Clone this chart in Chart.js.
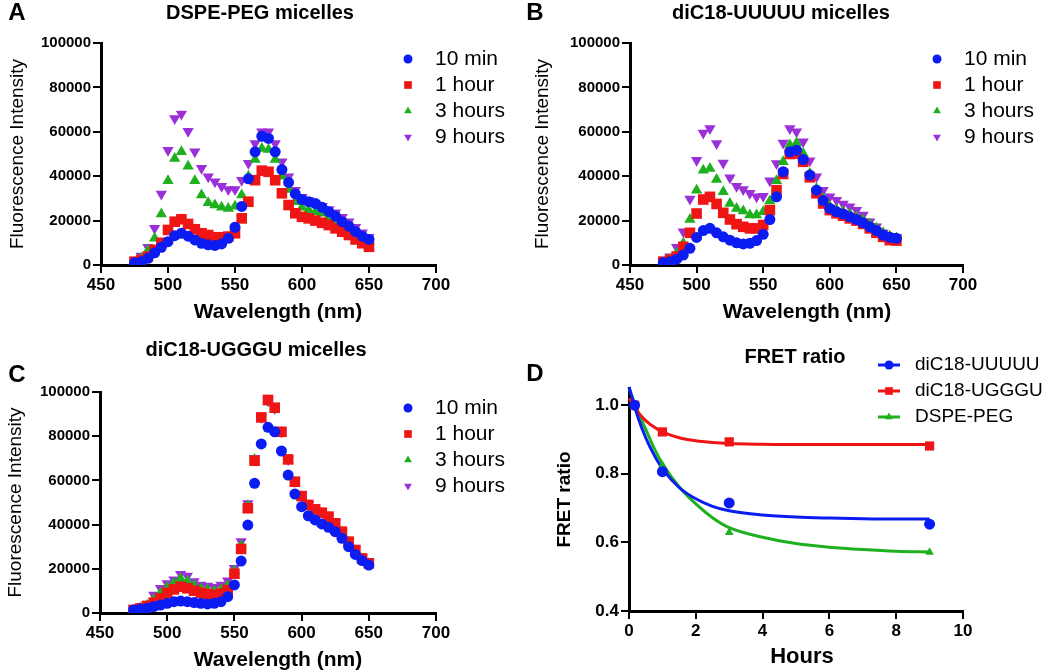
<!DOCTYPE html>
<html>
<head>
<meta charset="utf-8">
<script src="https://cdn.jsdelivr.net/npm/chart.js@4/dist/chart.umd.min.js"></script>
<style>
  body { margin: 0; background: #fff; }
  #wrap { position: relative; width: 1050px; height: 672px; }
  canvas { position: absolute; }
</style>
</head>
<body>
<div id="wrap">
  <canvas id="panelA" width="525" height="330" style="left:0;top:0"></canvas>
  <canvas id="panelB" width="525" height="330" style="left:525px;top:0"></canvas>
  <canvas id="panelC" width="525" height="342" style="left:0;top:330px"></canvas>
  <canvas id="panelD" width="525" height="342" style="left:525px;top:330px"></canvas>
</div>
<script>
// emission wavelengths (nm)
const wavelengths = [475, 480, 485, 490, 495, 500, 505, 510, 515, 520, 525, 530, 535, 540, 545, 550, 555, 560,
                     565, 570, 575, 580, 585, 590, 595, 600, 605, 610, 615, 620, 625, 630, 635, 640, 645, 650];

const timeLabels = ['10 min', '1 hour', '3 hours', '9 hours'];

// A - DSPE-PEG micelles
const dspe10min = [1000, 1500, 3000, 5500, 8000, 10500, 13200, 14300, 13000, 11300, 9800, 9100, 8800, 9500, 12000, 17000,
                   26400, 38800, 51000, 58000, 57000, 51000, 43000, 37200, 32000, 29500, 28500, 27700, 26000, 24000, 22000, 19500, 17500, 15000, 13000, 11500];
const dspe1h = [1500, 2200, 3800, 6800, 10000, 15800, 19500, 20600, 18500, 16100, 14300, 13500, 12500, 12500, 12800, 14300,
                21000, 28500, 38200, 42500, 42000, 38200, 32300, 27000, 23300, 21700, 21000, 20000, 19000, 18000, 16500, 15000, 13500, 11500, 9800, 8200];
const dspe3h = [1000, 3000, 6500, 12000, 23000, 38000, 48000, 51000, 44500, 38000, 31500, 28000, 27000, 26000, 25500, 26500,
                31500, 40000, 47500, 52500, 52000, 47500, 40000, 34000, 28500, 26000, 24800, 24000, 23300, 21700, 20300, 18000, 16500, 14200, 12400, 10800];
const dspe9h = [2000, 4000, 8000, 16500, 32000, 51700, 66000, 68000, 60300, 51000, 43600, 39700, 37500, 35500, 34000, 34000,
                38200, 45800, 54700, 60000, 60000, 54700, 46500, 39700, 33700, 30500, 29000, 27500, 26500, 25000, 23500, 21500, 19500, 17000, 14500, 12500];

// B - diC18-UUUUU micelles
const uuuuu10min = [1000, 1500, 2600, 4500, 7500, 12400, 15500, 16500, 14500, 12700, 11200, 10000, 9500, 9800, 11000, 13800,
                    20500, 30700, 42000, 51000, 51700, 47500, 40500, 33700, 29000, 25500, 24000, 23000, 21700, 20500, 19000, 17200, 15500, 13500, 12500, 12000];
const uuuuu1h = [1500, 2300, 3800, 8200, 14500, 23200, 29500, 30700, 27500, 23500, 20500, 18400, 17200, 16500, 16500, 18000,
                 24700, 33700, 41000, 50000, 50200, 46500, 39500, 32300, 27700, 24700, 23300, 22200, 21000, 20000, 18500, 16500, 14500, 12700, 11200, 11000];
const uuuuu3h = [800, 2500, 5200, 9800, 20500, 33700, 42700, 43500, 38500, 33000, 27700, 25500, 24300, 22500, 22500, 24000,
                 28800, 38000, 46500, 54000, 55000, 50200, 41200, 34500, 30000, 26500, 25000, 24000, 23000, 21700, 20300, 18500, 16500, 14500, 13000, 12000];
const uuuuu9h = [1500, 3700, 8000, 15000, 29700, 47200, 59500, 61500, 54700, 46000, 39300, 35500, 34000, 32300, 30700, 31000,
                 38000, 45700, 55000, 61500, 60000, 55500, 47000, 39700, 33700, 30700, 29200, 27500, 26200, 24700, 22500, 19500, 17200, 14500, 13000, 12500];

// C - diC18-UGGGU micelles
const ugggu10min = [1400, 1800, 2100, 2900, 3600, 4400, 5100, 5400, 5100, 4700, 4400, 4100, 4400, 5100, 7400, 12700,
                    23500, 39800, 58700, 76500, 84000, 82000, 73300, 62400, 53800, 48100, 44000, 42100, 40300, 38800, 36800, 33800, 30000, 26500, 23700, 21700];
const ugggu1h = [1400, 2100, 3200, 4700, 6600, 9200, 10700, 11900, 11200, 10100, 9200, 8600, 8100, 8800, 10400, 17800,
                 29000, 47400, 68900, 88500, 96400, 92900, 82000, 69500, 59400, 52900, 48900, 46900, 45400, 43600, 40600, 36800, 32300, 28500, 24700, 22500];
const ugggu3h = [1400, 2300, 3500, 6000, 9000, 11500, 13500, 15500, 14500, 12500, 11000, 10500, 10000, 10500, 12500, 19000,
                 30500, 48500, 69500, 88000, 95500, 92000, 81500, 69000, 59000, 52500, 48500, 46500, 45000, 43200, 40300, 36500, 32000, 28200, 24500, 22300];
const ugggu9h = [1500, 2500, 3800, 8100, 11200, 13400, 15000, 17500, 16700, 14200, 12700, 12200, 11600, 12700, 14600, 20200,
                 32300, 49600, 70000, 88500, 96000, 92500, 82000, 69500, 59500, 53000, 49000, 47000, 45500, 43700, 40700, 36900, 32400, 28600, 24800, 22600];

// D - FRET ratio vs time
const fretNames = ['diC18-UUUUU', 'diC18-UGGGU', 'DSPE-PEG'];
const fretHours = [0.167, 1, 3, 9];
const fretUUUUU = [1.0, 0.806, 0.715, 0.653];
const fretUGGGU = [1.0, 0.922, 0.893, 0.881];
const fretDSPE = [1.0, 0.825, 0.629, 0.571];
// fitted decay curves
const fitHours = [0, 0.25, 0.5, 0.75, 1, 1.5, 2, 2.5, 3, 4, 5, 6, 7, 8, 9];
const fitUUUUU = [1.053, 0.97, 0.905, 0.855, 0.815, 0.76, 0.727, 0.705, 0.692, 0.68, 0.674, 0.671, 0.669, 0.668, 0.668];
const fitUGGGU = [1.02, 0.982, 0.955, 0.936, 0.922, 0.905, 0.896, 0.891, 0.888, 0.886, 0.885, 0.885, 0.885, 0.885, 0.885];
const fitDSPE = [1.05, 0.985, 0.93, 0.875, 0.83, 0.762, 0.712, 0.672, 0.643, 0.615, 0.597, 0.586, 0.579, 0.574, 0.572];

const FONT = '"Liberation Sans", Arial, Helvetica, sans-serif';
const colors = ['#0b1cf2', '#f01515', '#1fb01f', '#9b30d8'];
const shapes = ['circle', 'rect', 'triangle', 'triangle'];
const rotations = [0, 0, 0, 180];
const radii = [5.5, 7.5, 6.5, 6.5];

function pairs(xs, ys) {
    return xs.map((x, i) => ({ x: x, y: ys[i] }));
}

function drawMarker(ctx, shape, x, y, r, rot, color) {
    ctx.save();
    ctx.fillStyle = color;
    ctx.translate(x, y);
    ctx.rotate(rot * Math.PI / 180);
    ctx.beginPath();
    if (shape === 'circle') {
        ctx.arc(0, 0, r, 0, Math.PI * 2);
    } else if (shape === 'rect') {
        ctx.rect(-r, -r, 2 * r, 2 * r);
    } else {
        ctx.moveTo(0, -r);
        ctx.lineTo(r * 0.866, r * 0.5);
        ctx.lineTo(-r * 0.866, r * 0.5);
        ctx.closePath();
    }
    ctx.fill();
    ctx.restore();
}

// panel letter, title, x-axis title and a legend placed like the original figure
const panelText = {
    id: 'panelText',
    afterDraw(chart, args, opts) {
        const ctx = chart.ctx;
        ctx.save();
        ctx.fillStyle = '#000';
        ctx.textBaseline = 'middle';
        ctx.textAlign = 'center';
        ctx.font = 'bold 24px ' + FONT;
        ctx.fillText(opts.letter, opts.letterX, opts.letterY);
        ctx.font = 'bold 20px ' + FONT;
        ctx.fillText(opts.title, opts.titleX, opts.titleY);
        ctx.font = 'bold ' + opts.xTitleSize + 'px ' + FONT;
        ctx.fillText(opts.xTitle, opts.xTitleX, opts.xTitleY);

        const lg = opts.legend;
        ctx.font = lg.size + 'px ' + FONT;
        ctx.textAlign = 'left';
        lg.labels.forEach((label, i) => {
            const y = lg.y + i * lg.gap;
            if (lg.line) {
                ctx.strokeStyle = colors[i];
                ctx.lineWidth = 3;
                ctx.beginPath();
                ctx.moveTo(lg.x - 11, y);
                ctx.lineTo(lg.x + 11, y);
                ctx.stroke();
            }
            const r = shapes[i] === 'rect' ? lg.r * 0.85 : lg.r;
            drawMarker(ctx, shapes[i], lg.x, y, r, rotations[i], colors[i]);
            ctx.fillStyle = '#000';
            ctx.fillText(label, lg.textX, y);
        });
        ctx.restore();
    }
};

function axisX(min, max, step, height) {
    return {
        type: 'linear', min: min, max: max,
        ticks: { stepSize: step, color: '#000', padding: 2, maxRotation: 0,
                 font: { family: FONT, size: 17, weight: 'bold' } },
        grid: { drawOnChartArea: false, drawTicks: true, tickLength: 8, color: '#000', lineWidth: 2 },
        border: { display: true, color: '#000', width: 3 },
        afterFit: function (scale) { scale.height = height; }
    };
}

function axisY(min, max, step, title, width, tickSize, titleWeight, titlePad, fmt) {
    return {
        type: 'linear', min: min, max: max,
        ticks: { stepSize: step, color: '#000', padding: 2, includeBounds: false,
                 font: { family: FONT, size: tickSize, weight: 'bold' }, callback: fmt },
        grid: { drawOnChartArea: false, drawTicks: true, tickLength: 8, color: '#000', lineWidth: 2 },
        border: { display: true, color: '#000', width: 3 },
        title: { display: true, text: title, color: '#000', padding: { top: titlePad, bottom: 0 },
                 font: { family: FONT, size: 19, weight: titleWeight } },
        afterFit: function (scale) { scale.width = width; }
    };
}

function spectrumChart(id, series, layout) {
    const datasets = series.map((vals, i) => ({
        label: timeLabels[i],
        data: pairs(wavelengths, vals),
        pointStyle: shapes[i],
        rotation: rotations[i],
        pointRadius: radii[i],
        pointBackgroundColor: colors[i],
        pointBorderWidth: 0,
        showLine: false
    }));

    new Chart(document.getElementById(id), {
        type: 'scatter',
        data: { datasets: datasets },
        plugins: [panelText],
        options: {
            responsive: false,
            animation: false,
            layout: { padding: { left: 0, top: layout.top, right: layout.right, bottom: 0 } },
            plugins: {
                legend: { display: false },
                tooltip: { enabled: false },
                panelText: {
                    letter: layout.letter, letterX: layout.letterX, letterY: layout.letterY,
                    title: layout.title, titleX: layout.titleX, titleY: layout.titleY,
                    xTitle: 'Wavelength (nm)', xTitleSize: 21, xTitleX: layout.xTitleX, xTitleY: layout.xTitleY,
                    legend: { labels: timeLabels, x: layout.legendX, textX: layout.legendX + 27,
                              y: layout.legendY, gap: 26, size: 21, r: 4.5, line: false }
                }
            },
            scales: {
                x: axisX(450, 700, 50, layout.xHeight),
                y: axisY(0, 100000, 20000, 'Fluorescence Intensity', layout.yWidth, 15, 'normal',
                         layout.yTitlePad, v => String(v))
            }
        }
    });
}

spectrumChart('panelA', [dspe10min, dspe1h, dspe3h, dspe9h], {
    top: 43, right: 89, yWidth: 101, xHeight: 65, yTitlePad: 6,
    letter: 'A', letterX: 17, letterY: 13, title: 'DSPE-PEG micelles', titleX: 260, titleY: 13,
    xTitleX: 278, xTitleY: 312, legendX: 408, legendY: 59
});

spectrumChart('panelB', [uuuuu10min, uuuuu1h, uuuuu3h, uuuuu9h], {
    top: 43, right: 87, yWidth: 105, xHeight: 65, yTitlePad: 6,
    letter: 'B', letterX: 10, letterY: 13, title: 'diC18-UUUUU micelles', titleX: 256, titleY: 13,
    xTitleX: 282, xTitleY: 312, legendX: 412, legendY: 59
});

spectrumChart('panelC', [ugggu10min, ugggu1h, ugggu3h, ugggu9h], {
    top: 62, right: 89, yWidth: 100, xHeight: 59, yTitlePad: 4,
    letter: 'C', letterX: 17, letterY: 45, title: 'diC18-UGGGU micelles', titleX: 256, titleY: 20,
    xTitleX: 278, xTitleY: 330, legendX: 408, legendY: 78
});

// D - FRET ratio
const fretPoints = [fretUUUUU, fretUGGGU, fretDSPE];
const fretFits = [fitUUUUU, fitUGGGU, fitDSPE];
const fretRadii = [5.5, 6.5, 5];
const dDatasets = [];
fretPoints.forEach((vals, i) => {
    dDatasets.push({
        label: fretNames[i],
        data: pairs(fretHours, vals),
        pointStyle: shapes[i],
        pointRadius: fretRadii[i],
        pointBackgroundColor: colors[i],
        pointBorderWidth: 0,
        showLine: false,
        clip: false
    });
});
fretFits.forEach((vals, i) => {
    dDatasets.push({
        label: fretNames[i] + ' fit',
        data: pairs(fitHours, vals),
        showLine: true,
        borderColor: colors[i],
        borderWidth: 3,
        pointRadius: 0,
        cubicInterpolationMode: 'monotone',
        clip: false
    });
});

new Chart(document.getElementById('panelD'), {
    type: 'scatter',
    data: { datasets: dDatasets },
    plugins: [panelText],
    options: {
        responsive: false,
        animation: false,
        layout: { padding: { left: 0, top: 58, right: 87, bottom: 0 } },
        plugins: {
            legend: { display: false },
            tooltip: { enabled: false },
            panelText: {
                letter: 'D', letterX: 10, letterY: 44,
                title: 'FRET ratio', titleX: 270, titleY: 27,
                xTitle: 'Hours', xTitleSize: 22, xTitleX: 277, xTitleY: 327,
                legend: { labels: fretNames, x: 364, textX: 390, y: 35, gap: 26, size: 19, r: 4.5, line: true }
            }
        },
        scales: {
            x: axisX(0, 10, 2, 61),
            y: axisY(0.4, 1.05, 0.2, 'FRET ratio', 104, 17, 'bold', 28, v => v.toFixed(1))
        }
    }
});
</script>
</body>
</html>
